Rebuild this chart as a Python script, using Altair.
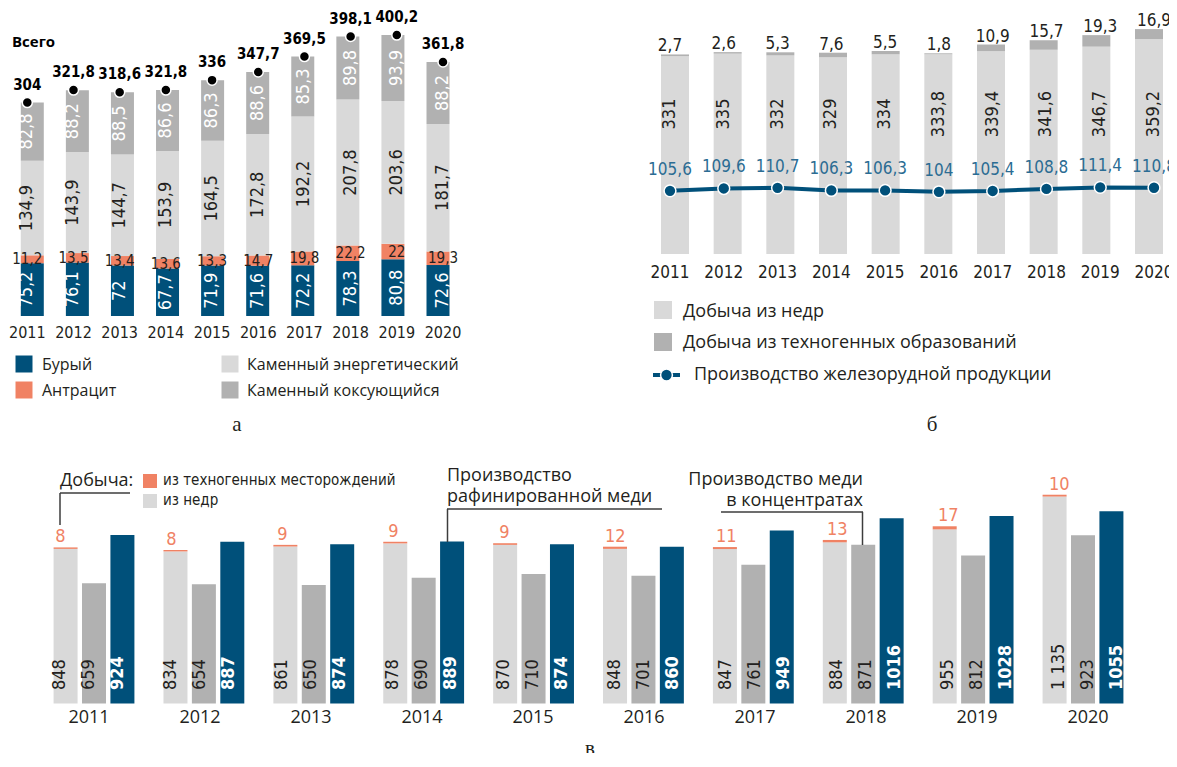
import altair as alt
import pandas as pd

# ---------------- data ----------------
years = [2011, 2012, 2013, 2014, 2015, 2016, 2017, 2018, 2019, 2020]

# panel а – coal
coal_series = ["Бурый", "Антрацит", "Каменный энергетический", "Каменный коксующийся"]
brown_coal = [75.2, 76.1, 72, 67.7, 71.9, 71.6, 72.2, 78.3, 80.8, 72.6]
anthracite = [11.2, 13.5, 13.4, 13.6, 13.3, 14.7, 19.8, 22.2, 22, 19.3]
steam_coal = [134.9, 143.9, 144.7, 153.9, 164.5, 172.8, 192.2, 207.8, 203.6, 181.7]
coking_coal = [82.8, 88.2, 88.5, 86.6, 86.3, 88.6, 85.3, 89.8, 93.9, 88.2]
coal_total = [304, 321.8, 318.6, 321.8, 336, 347.7, 369.5, 398.1, 400.2, 361.8]

# panel б – iron ore
ore_series = ["Добыча из недр", "Добыча из техногенных образований",
              "Производство железорудной продукции"]
ore_subsoil = [331, 335, 332, 329, 334, 333.8, 339.4, 341.6, 346.7, 359.2]
ore_technogenic = [2.7, 2.6, 5.3, 7.6, 5.5, 1.8, 10.9, 15.7, 19.3, 16.9]
ore_products = [105.6, 109.6, 110.7, 106.3, 106.3, 104, 105.4, 108.8, 111.4, 110.8]

# panel в – copper
cu_series = ["из техногенных месторождений", "из недр",
             "Производство меди в концентратах", "Производство рафинированной меди"]
cu_technogenic = [8, 8, 9, 9, 9, 12, 11, 13, 17, 10]
cu_subsoil = [848, 834, 861, 878, 870, 848, 847, 884, 955, 1135]
cu_concentrate = [659, 654, 650, 690, 710, 701, 761, 871, 812, 923]
cu_refined = [924, 887, 874, 889, 874, 860, 949, 1016, 1028, 1055]

# ---------------- styles ----------------
BLUE = "#00507a"
SALMON = "#f08264"
LIGHT = "#d9d9d9"
MID = "#b1b1b1"
INK = "#231f20"
LBLUE = "#2b6c93"
NARROW = "Liberation Sans Narrow, DejaVu Sans Condensed, Roboto, sans-serif"
SANS = "Open Sans, Noto Sans, sans-serif"
SERIF = "Liberation Serif, DejaVu Serif, serif"

BX = 462   # horizontal offset of panel б
CY = 432   # vertical offset of panel в


def fmt(v):
    if float(v).is_integer():
        return str(int(v))
    return str(v).replace(".", ",")


def one(text):
    return pd.DataFrame({"t": [text]})


def label_at(text, x, y, font=SANS, size=16, weight="normal", align="left",
             color=INK, baseline="middle", clip=False):
    return alt.Chart(one(text)).mark_text(
        font=font, fontSize=size, fontWeight=weight, align=align,
        baseline=baseline, color=color, clip=clip
    ).encode(x=alt.value(x), y=alt.value(y), text="t:N")


def swatch(x, y, color, side):
    return alt.Chart(one("")).mark_square(
        size=side * side, color=color, opacity=1, filled=True
    ).encode(x=alt.value(x), y=alt.value(y))


def segment(x1, y1, x2, y2, color="#3c3c3c", width=1.5):
    return alt.Chart(one("")).mark_rule(color=color, strokeWidth=width).encode(
        x=alt.value(x1), x2=alt.value(x2), y=alt.value(y1), y2=alt.value(y2))


# ================= panel а =================
rows = []
for i, yr in enumerate(years):
    base = 0.0
    for s, vals in zip(coal_series, [brown_coal, anthracite, steam_coal, coking_coal]):
        v = vals[i]
        rows.append(dict(year=yr, series=s, y0=base, y1=base + v,
                         mid=base + v / 2, label=fmt(v)))
        base += v
df_a = pd.DataFrame(rows)
df_a_tot = pd.DataFrame(dict(year=years, total=coal_total,
                             label=[fmt(v) for v in coal_total]))

XA = alt.Scale(domain=[2011, 2020], range=[19.3, 435], nice=False, zero=False)
YA = alt.Scale(domain=[0, 400], range=[308, 27.2], nice=False, zero=False)
xa = alt.X("year:Q", scale=XA, axis=None)

bars_a = alt.Chart(df_a).mark_bar(size=23).encode(
    x=xa,
    y=alt.Y("y0:Q", scale=YA, axis=None),
    y2="y1:Q",
    color=alt.Color("series:N", legend=None,
                    scale=alt.Scale(domain=coal_series, range=[BLUE, SALMON, LIGHT, MID])),
)


def seg_text_a(series, color, angle, size):
    return alt.Chart(df_a).transform_filter(alt.datum.series == series).mark_text(
        angle=angle, color=color, font=NARROW, fontSize=size,
        align="center", baseline="middle"
    ).encode(x=xa, y=alt.Y("mid:Q", scale=YA, axis=None), text="label:N")


dots_a = alt.Chart(df_a_tot).mark_circle(
    size=100, color="#000000", opacity=1, stroke="white", strokeWidth=1.5
).encode(x=xa, y=alt.Y("total:Q", scale=YA, axis=None))
tot_text_a = alt.Chart(df_a_tot).mark_text(
    dy=-18, font=NARROW, fontSize=15, fontWeight="bold", color="#000000", baseline="middle"
).encode(x=xa, y=alt.Y("total:Q", scale=YA, axis=None), text="label:N")
years_a = alt.Chart(df_a_tot).mark_text(
    font=NARROW, fontSize=16, color=INK, baseline="middle"
).encode(x=xa, y=alt.value(325), text="year:N")

panel_a = [
    bars_a,
    seg_text_a(coal_series[0], "white", 270, 18),
    seg_text_a(coal_series[1], INK, 0, 15),
    seg_text_a(coal_series[2], INK, 270, 18),
    seg_text_a(coal_series[3], "white", 270, 18),
    dots_a, tot_text_a, years_a,
    label_at("Всего", 4, 34, size=15, weight="bold", color="#000000"),
    swatch(16, 356, BLUE, 17), label_at(coal_series[0], 34, 357),
    swatch(16, 382, SALMON, 17), label_at(coal_series[1], 34, 383),
    swatch(222, 356, LIGHT, 17), label_at(coal_series[2], 239, 357),
    swatch(222, 382, MID, 17), label_at(coal_series[3], 239, 383),
    label_at("а", 229, 417, font=SERIF, size=21, align="center"),
]

# ================= panel б =================
rows = []
for i, yr in enumerate(years):
    rows.append(dict(year=yr, series=ore_series[0], y0=0, y1=ore_subsoil[i]))
    rows.append(dict(year=yr, series=ore_series[1], y0=ore_subsoil[i],
                     y1=ore_subsoil[i] + ore_technogenic[i]))
df_b = pd.DataFrame(rows)
df_b_lab = pd.DataFrame(dict(
    year=years,
    top=[a + b for a, b in zip(ore_subsoil, ore_technogenic)],
    sub_label=[fmt(v) for v in ore_subsoil],
    tech_label=[fmt(v) for v in ore_technogenic],
    prod=ore_products,
    prod_label=[fmt(v) for v in ore_products],
))

XB = alt.Scale(domain=[2011, 2020], range=[BX + 200, BX + 684], nice=False, zero=False)
YB = alt.Scale(domain=[0, 400], range=[246, 6.8], nice=False, zero=False)
xb = alt.X("year:Q", scale=XB, axis=None)

bars_b = alt.Chart(df_b).mark_bar(size=28).encode(
    x=xb,
    y=alt.Y("y0:Q", scale=YB, axis=None),
    y2="y1:Q",
    color=alt.Color("series:N", legend=None,
                    scale=alt.Scale(domain=ore_series[:2], range=[LIGHT, MID])),
)
tech_text_b = alt.Chart(df_b_lab).mark_text(
    dy=-3, font=NARROW, fontSize=17, color=INK, baseline="alphabetic", clip=True
).encode(x=xb, y=alt.Y("top:Q", scale=YB, axis=None), text="tech_label:N")
sub_text_b = alt.Chart(df_b_lab).mark_text(
    angle=270, font=NARROW, fontSize=18, color=INK, baseline="middle", align="center"
).encode(x=xb, y=alt.value(106), text="sub_label:N")
line_b = alt.Chart(df_b_lab).mark_line(color=BLUE, strokeWidth=4).encode(
    x=xb, y=alt.Y("prod:Q", scale=YB, axis=None))
pts_b = alt.Chart(df_b_lab).mark_circle(
    size=140, color=BLUE, opacity=1, stroke="white", strokeWidth=1.5
).encode(x=xb, y=alt.Y("prod:Q", scale=YB, axis=None))
prod_text_b = alt.Chart(df_b_lab).mark_text(
    dy=-21, font=NARROW, fontSize=17, color=LBLUE, baseline="middle", clip=True
).encode(x=xb, y=alt.Y("prod:Q", scale=YB, axis=None), text="prod_label:N")
years_b = alt.Chart(df_b_lab).mark_text(
    font=NARROW, fontSize=17, color=INK, baseline="middle", clip=True
).encode(x=xb, y=alt.value(265), text="year:N")

panel_b = [
    bars_b, tech_text_b, sub_text_b, line_b, pts_b, prod_text_b, years_b,
    swatch(BX + 193, 302, LIGHT, 18), label_at(ore_series[0], BX + 213, 304, size=18),
    swatch(BX + 193, 334, MID, 18), label_at(ore_series[1], BX + 213, 335, size=18),
    segment(BX + 183, 367, BX + 210, 367, color=BLUE, width=4),
    alt.Chart(one("")).mark_circle(size=140, color=BLUE, opacity=1, stroke="white",
                                   strokeWidth=1.5).encode(x=alt.value(BX + 196.5),
                                                           y=alt.value(367)),
    label_at(ore_series[2], BX + 224, 367, size=18),
    label_at("б", BX + 462, 417, font=SERIF, size=21, align="center"),
]

# ================= panel в =================
OFF = 0.2586
rows = []
for i, yr in enumerate(years):
    rows.append(dict(year=yr, series=cu_series[1], xpos=yr - OFF, y0=0, y1=cu_subsoil[i]))
    rows.append(dict(year=yr, series=cu_series[0], xpos=yr - OFF, y0=cu_subsoil[i],
                     y1=cu_subsoil[i] + cu_technogenic[i]))
    rows.append(dict(year=yr, series=cu_series[2], xpos=yr, y0=0, y1=cu_concentrate[i]))
    rows.append(dict(year=yr, series=cu_series[3], xpos=yr + OFF, y0=0, y1=cu_refined[i]))
df_c = pd.DataFrame(rows)

df_c_lab = pd.DataFrame(dict(
    year=years,
    x_sub=[y - OFF for y in years],
    x_conc=years,
    x_ref=[y + OFF for y in years],
    top=[a + b for a, b in zip(cu_subsoil, cu_technogenic)],
    tech_label=[fmt(v) for v in cu_technogenic],
    sub_label=[f"{v:,}".replace(",", " ") for v in cu_subsoil],
    conc_label=[fmt(v) for v in cu_concentrate],
    ref_label=[fmt(v) for v in cu_refined],
))

XC = alt.Scale(domain=[2011, 2020], range=[81, 1080], nice=False, zero=False)
YC = alt.Scale(domain=[0, 1200], range=[CY + 263.5, CY + 44.7], nice=False, zero=False)

bars_c = alt.Chart(df_c).mark_bar(size=24).encode(
    x=alt.X("xpos:Q", scale=XC, axis=None),
    y=alt.Y("y0:Q", scale=YC, axis=None),
    y2="y1:Q",
    color=alt.Color("series:N", legend=None,
                    scale=alt.Scale(domain=cu_series, range=[SALMON, LIGHT, MID, BLUE])),
)
tech_text_c = alt.Chart(df_c_lab).mark_text(
    dy=-10, font=NARROW, fontSize=18, color=SALMON, baseline="middle"
).encode(x=alt.X("x_sub:Q", scale=XC, axis=None),
         y=alt.Y("top:Q", scale=YC, axis=None), text="tech_label:N")


def bottom_text_c(xfield, tfield, color, weight="normal"):
    return alt.Chart(df_c_lab).mark_text(
        angle=270, align="left", baseline="middle", font=NARROW, fontSize=18,
        color=color, fontWeight=weight
    ).encode(x=alt.X(f"{xfield}:Q", scale=XC, axis=None), y=alt.value(CY + 250),
             text=f"{tfield}:N")


years_c = alt.Chart(df_c_lab).mark_text(
    font=SANS, fontSize=18, color=INK, baseline="middle"
).encode(x=alt.X("year:Q", scale=XC, axis=None), y=alt.value(CY + 278), text="year:N")

panel_c = [
    bars_c, tech_text_c,
    bottom_text_c("x_sub", "sub_label", INK),
    bottom_text_c("x_conc", "conc_label", INK),
    bottom_text_c("x_ref", "ref_label", "white", "bold"),
    years_c,
    label_at("Добыча:", 52, CY + 41, size=18),
    swatch(142, CY + 41, SALMON, 14), label_at(cu_series[0], 155, CY + 40, font=NARROW, size=15),
    swatch(142, CY + 61, LIGHT, 14), label_at(cu_series[1], 155, CY + 60, font=NARROW, size=15),
    segment(52, CY + 53, 122, CY + 53), segment(52, CY + 53, 52, CY + 85),
    label_at("Производство", 439, CY + 36, size=18),
    label_at("рафинированной меди", 439, CY + 57, size=18),
    segment(439, CY + 69, 654, CY + 69), segment(439.5, CY + 69, 439.5, CY + 102),
    label_at("Производство меди", 855, CY + 40, size=18, align="right"),
    label_at("в концентратах", 855, CY + 61, size=18, align="right"),
    segment(713, CY + 72, 855, CY + 72), segment(854.5, CY + 72, 854.5, CY + 105),
    label_at("в", 582, CY + 298, font=SERIF, size=21, align="center", baseline="top", clip=True),
]

# ================= assemble =================
chart = alt.layer(*panel_a, *panel_b, *panel_c).resolve_scale(
    x="independent", y="independent", color="independent"
).properties(width=1161, height=745, padding=0).configure_view(stroke=None)

chart.save("out.html", embed_options={"renderer": "svg", "actions": False})
